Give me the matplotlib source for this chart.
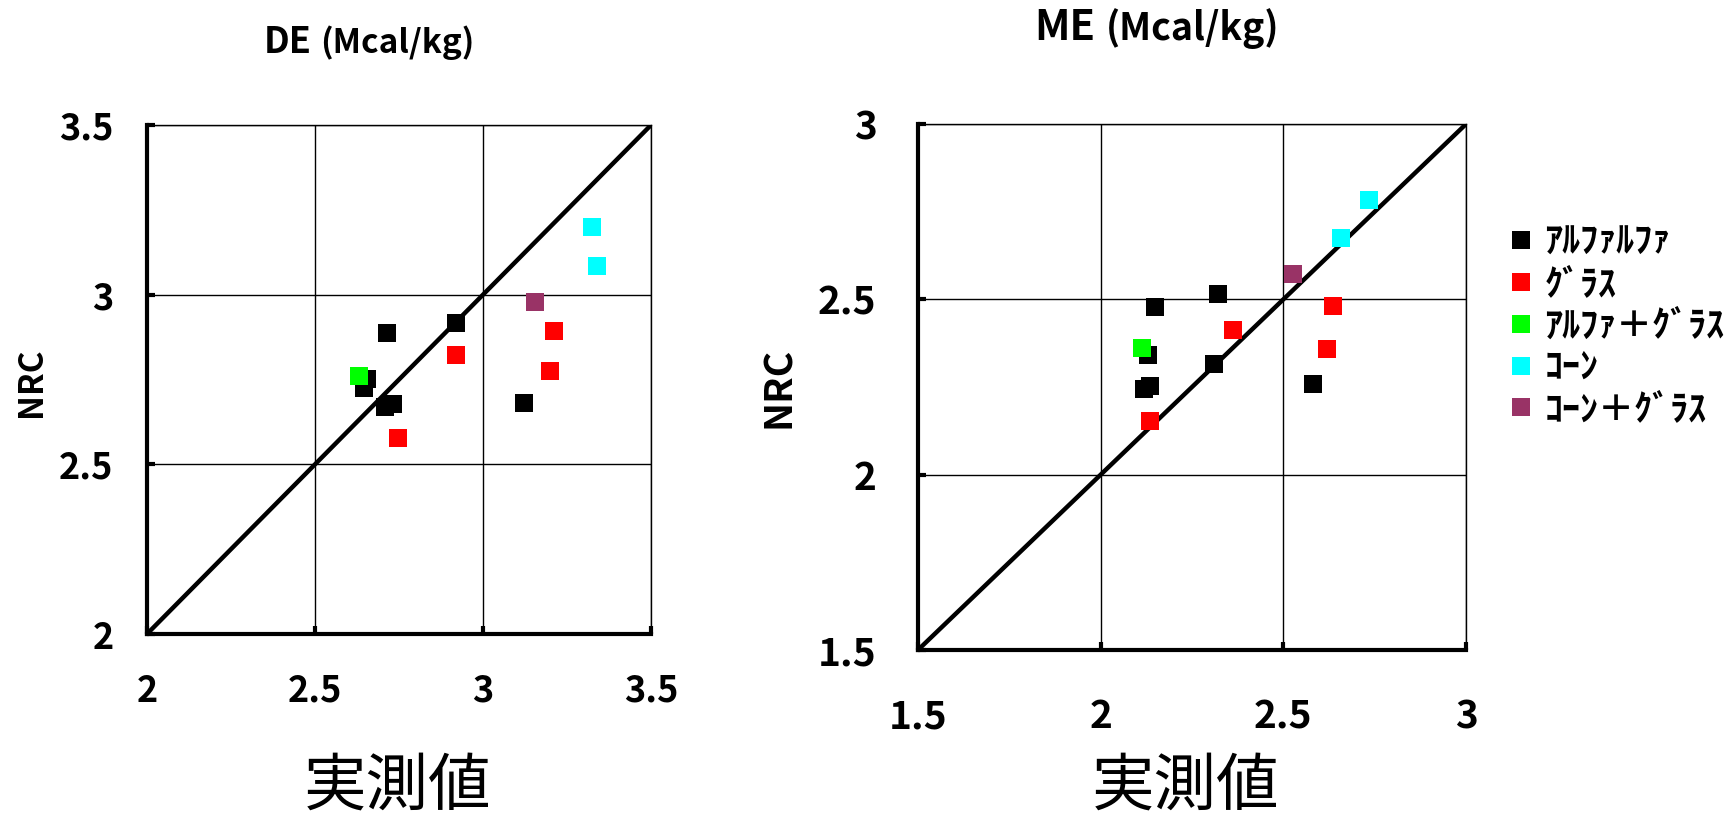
import matplotlib
matplotlib.use("Agg")
import matplotlib.pyplot as plt

plt.rcParams['font.family'] = ['Noto Sans CJK JP', 'DejaVu Sans']

# series names (half-width katakana as in the original)
groups = ["ｱﾙﾌｧﾙﾌｧ", "ｸﾞﾗｽ", "ｱﾙﾌｧ＋ｸﾞﾗｽ", "ｺｰﾝ", "ｺｰﾝ＋ｸﾞﾗｽ"]
colors = ["#000000", "#FF0000", "#00FF00", "#00FFFF", "#993366"]

# DE (Mcal/kg): measured (x) vs NRC (y)
de_alfalfa_x = [2.714, 2.921, 3.122, 2.655, 2.647, 2.733, 2.709]
de_alfalfa_y = [2.888, 2.918, 2.680, 2.753, 2.725, 2.679, 2.668]
de_grass_x = [3.211, 3.200, 2.921, 2.748]
de_grass_y = [2.894, 2.775, 2.821, 2.578]
de_mix_x = [2.631]
de_mix_y = [2.760]
de_corn_x = [3.324, 3.340]
de_corn_y = [3.200, 3.086]
de_corngrass_x = [3.156]
de_corngrass_y = [2.979]

# ME (Mcal/kg)
me_alfalfa_x = [2.150, 2.320, 2.309, 2.582, 2.129, 2.135, 2.118]
me_alfalfa_y = [2.477, 2.516, 2.316, 2.259, 2.340, 2.253, 2.243]
me_grass_x = [2.637, 2.620, 2.363, 2.135]
me_grass_y = [2.481, 2.357, 2.413, 2.152]
me_mix_x = [2.112]
me_mix_y = [2.362]
me_corn_x = [2.735, 2.658]
me_corn_y = [2.784, 2.675]
me_corngrass_x = [2.527]
me_corngrass_y = [2.573]

de_ticks = [2, 2.5, 3, 3.5]
de_labels = ["2", "2.5", "3", "3.5"]
me_ticks = [1.5, 2, 2.5, 3]
me_labels = ["1.5", "2", "2.5", "3"]


def panel(ax, series, ticks, labels, fs, xpad, ypad):
    lo, hi = ticks[0], ticks[-1]
    ax.plot([lo, hi], [lo, hi], color="black", lw=3.2, zorder=2)
    handles = []
    for (xs, ys), name, c in zip(series, groups, colors):
        h, = ax.plot(xs, ys, ls="none", marker="s", ms=13.5, mew=0,
                     color=c, label=name, zorder=3)
        handles.append(h)
    ax.set_xlim(lo, hi)
    ax.set_ylim(lo, hi)
    ax.set_xticks(ticks)
    ax.set_yticks(ticks)
    ax.set_xticklabels(labels, fontsize=fs, fontweight="bold")
    ax.set_yticklabels(labels, fontsize=fs, fontweight="bold")
    ax.grid(True, color="black", lw=1.0)
    ax.set_axisbelow(True)
    for s in ["left", "bottom"]:
        ax.spines[s].set_linewidth(3.0)
    for s in ["top", "right"]:
        ax.spines[s].set_linewidth(1.0)
    ax.tick_params(axis="x", direction="in", length=6, width=3, pad=xpad)
    ax.tick_params(axis="y", direction="in", length=6, width=3, pad=ypad)
    return handles


fig = plt.figure(figsize=(17.35, 8.18), dpi=100)

ax1 = fig.add_axes([0.0847, 0.2249, 0.2905, 0.6222])
hs = panel(ax1,
           [(de_alfalfa_x, de_alfalfa_y), (de_grass_x, de_grass_y),
            (de_mix_x, de_mix_y), (de_corn_x, de_corn_y),
            (de_corngrass_x, de_corngrass_y)],
           de_ticks, de_labels, 26, 28, 24)

ax2 = fig.add_axes([0.5291, 0.2054, 0.3159, 0.6430])
panel(ax2,
      [(me_alfalfa_x, me_alfalfa_y), (me_grass_x, me_grass_y),
       (me_mix_x, me_mix_y), (me_corn_x, me_corn_y),
       (me_corngrass_x, me_corngrass_y)],
      me_ticks, me_labels, 28, 34, 30)

# titles
fig.text(312 / 1735, 1 - 53 / 818, "DE", fontsize=26, fontweight="bold",
         ha="right", va="baseline")
fig.text(320 / 1735, 1 - 53 / 818, "(Mcal/kg)", fontsize=24, fontweight="bold",
         ha="left", va="baseline")
fig.text(1095 / 1735, 1 - 40 / 818, "ME", fontsize=30, fontweight="bold",
         ha="right", va="baseline")
fig.text(1106 / 1735, 1 - 40 / 818, "(Mcal/kg)", fontsize=27, fontweight="bold",
         ha="left", va="baseline")

# axis labels
fig.text(31 / 1735, 1 - 382 / 818, "NRC", fontsize=24, fontweight="bold",
         rotation=90, ha="center", va="center")
fig.text(778 / 1735, 1 - 387 / 818, "NRC", fontsize=28, fontweight="bold",
         rotation=90, ha="center", va="center")
fig.text(397 / 1735, 1 - 787 / 818, "実測値", fontsize=45, ha="center", va="center")
fig.text(1185 / 1735, 1 - 787 / 818, "実測値", fontsize=45, ha="center", va="center")

fig.legend(hs, groups, loc="upper left", bbox_to_anchor=(0.8703, 0.726),
           frameon=False, prop={"weight": "bold", "size": 26},
           handlelength=0.6, handletextpad=0.35, labelspacing=0.13,
           borderpad=0, borderaxespad=0)

fig.savefig("out.png", dpi=100)
